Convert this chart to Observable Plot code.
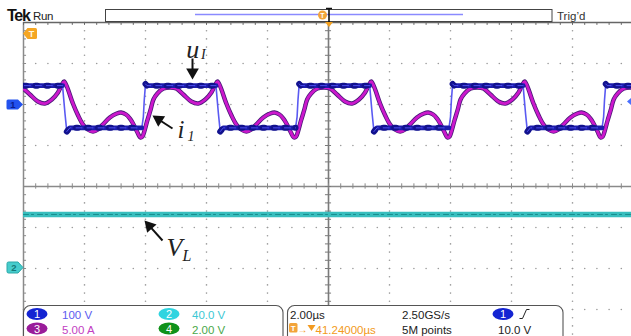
<!DOCTYPE html>
<html><head><meta charset="utf-8">
<script src="https://cdn.jsdelivr.net/npm/d3@7"></script>
<script src="https://cdn.jsdelivr.net/npm/@observablehq/plot@0.6"></script>
<style>
html,body{margin:0;padding:0;background:#fff;}
#chart{position:relative;width:631px;height:336px;overflow:hidden;}
</style></head><body><div id="chart"></div>
<script>
// ================= DATA =================
// time in µs from the left edge of the screen (2 µs/div), values in V or A
const risingEdgesUs = [-1.10, 3.93, 8.97, 14.00, 19.02];   // u_I rising edges

// Ch1 u_I, one period relative to its rising edge
const ch1RelUs  = [-0.05, 0.00, 0.03, 0.07, 0.12, 2.38, 2.42, 2.46, 2.52, 2.62, 4.97];
const ch1Volts  = [-57,   -30,  12,   50,   46,   46,   12,   -22,  -66,  -57,  -57];
const ch1Level  = ["L",   "",   "",   "H",  "H",  "H",  "",   "",   "L",  "L",  "L"];

// Ch3 i_1, one period relative to the u_I rising edge
const ch3RelUs = [-0.10, -0.03, 0.03, 0.13, 0.23, 0.33, 0.46, 0.66, 0.89, 1.08, 1.31, 1.57, 1.80, 2.03, 2.23, 2.36, 2.43, 2.52, 2.72, 2.89, 3.05, 3.21, 3.38, 3.54, 3.70, 3.93, 4.16, 4.30, 4.46, 4.59, 4.69, 4.82];
const ch3Amps  = [-4.02, -3.90, -3.29, -1.95, -0.73, 0.61, 1.34, 1.95, 2.07, 1.95, 1.22, 0.37, 0.12, 0.61, 1.46, 2.44, 2.80, 2.20, 0.12, -1.34, -2.44, -3.05, -3.29, -3.05, -2.44, -1.59, -1.10, -0.98, -1.22, -1.71, -2.32, -3.29];

// Ch2 V_L (flat)
const ch2TimeUs = [0, 19.934];
const ch2Volts  = [52.7, 52.7];

// channel settings: volts (amps) per division and ground offset in divisions
const ch1Scale = 100, ch1Offset = 2;
const ch2Scale = 40,  ch2Offset = -2;
const ch3Scale = 5,   ch3Offset = 2;

// readout texts
const readRow1 = ["100 V", "40.0 V"];
const readRow2 = ["5.00 A", "2.00 V"];
const horizRow1 = ["2.00µs", "2.50GS/s", "1"];
const horizRow2 = ["41.24000µs", "5M points", "10.0 V"];

// annotation labels
const labels = [
  {main: "u", sub: "I", t: 5.34, d: 3.122, st: 5.82, sd: 3.10, fs: 26, ss: 14},
  {main: "i", sub: "1", t: 5.05, d: 1.195, st: 5.38, sd: 1.098, fs: 25, ss: 14},
  {main: "V", sub: "L", t: 4.69, d: -1.683, st: 5.21, sd: -1.805, fs: 26, ss: 16}
];
// arrows: tail (t,div) -> arrow-head centre (t,div), head rotation (deg)
const arrows = [
  {t1: 5.541, d1: 3.122, t2: 5.541, d2: 2.79, rot: 180},
  {t1: 4.885, d1: 1.415, t2: 4.430, d2: 1.634, rot: -57},
  {t1: 4.557, d1: -1.317, t2: 4.128, d2: -0.961, rot: -42}
];

// ================= BUILD SERIES =================
const ch1 = [], ch1Thick = [], ch3 = [];
risingEdgesUs.forEach((R, k) => {
  ch1RelUs.forEach((r, i) => {
    const p = {t: R + r, y: ch1Offset + ch1Volts[i] / ch1Scale};
    ch1.push(p);
    if (ch1Level[i]) ch1Thick.push({...p, g: (r < 0 ? k - 1 : k) + ch1Level[i]});
  });
  ch3RelUs.forEach((r, i) => ch3.push({t: R + r, y: ch3Offset + ch3Amps[i] / ch3Scale}));
});
const ch2 = ch2TimeUs.map((t, i) => ({t, y: ch2Offset + ch2Volts[i] / ch2Scale}));

// graticule helpers
const majT = [2, 4, 6, 8, 12, 14, 16, 18];
const majD = [3, 2, 1, -1, -2, -3];
const fineT = d3.range(0, 20.01, 0.4);
const fineD = d3.range(-4, 4.01, 0.2);
const gratDots = [];
majT.forEach(t => fineD.forEach(d => gratDots.push({t, d})));
majD.forEach(d => fineT.forEach(t => gratDots.push({t, d})));

const serif = "'Liberation Serif', 'Times New Roman', serif";

const chart = Plot.plot({
  width: 631, height: 336,
  marginLeft: 23, marginRight: 0, marginTop: 22, marginBottom: 0,
  x: {domain: [0, 19.934], axis: null},
  y: {domain: [-3.6585, 4], axis: null},
  style: {background: "#fff", overflow: "visible"},
  marks: [
    Plot.dot(gratDots, {x: "t", y: "d", r: 0.8, fill: "#9a9a9a", stroke: null}),
    Plot.ruleX([10], {stroke: "#7a7a7a", strokeWidth: 1.6}),
    Plot.ruleY([0], {stroke: "#8a8a8a", strokeWidth: 1.3}),
    Plot.ruleX(fineT, {x: d => d, y1: -0.065, y2: 0.065, stroke: "#8a8a8a"}),
    Plot.ruleY(fineD, {y: d => d, x1: 9.9, x2: 10.1, stroke: "#7a7a7a"}),
    Plot.ruleX([0], {stroke: "#8a8a8a", strokeWidth: 1.5}),
    Plot.ruleY(fineD, {y: d => d, x1: 0, x2: 0.1, stroke: "#8a8a8a"}),
    Plot.ruleY([4], {stroke: "#666", strokeWidth: 1.6}),
    Plot.ruleX(fineT, {x: d => d, y1: 4, y2: 3.93, stroke: "#666"}),
    // Ch2
    Plot.line(ch2, {x: "t", y: "y", stroke: "#38bebe", strokeWidth: 5.5, clip: true}),
    Plot.line(ch2, {x: "t", y: "y", stroke: "#178e8e", strokeWidth: 1, strokeDasharray: "5,3,2,4", clip: true}),
    // Ch3
    Plot.line(ch3, {x: "t", y: "y", stroke: "#4a1a78", strokeWidth: 4.4, curve: "catmull-rom", clip: true}),
    Plot.line(ch3, {x: "t", y: "y", stroke: "#cc18cc", strokeWidth: 2.8, curve: "catmull-rom", clip: true}),
    // Ch1
    Plot.line(ch1, {x: "t", y: "y", stroke: "#5a5af2", strokeWidth: 1.6, clip: true}),
    Plot.line(ch1Thick, {x: "t", y: "y", z: "g", stroke: "#1c1cac", strokeWidth: 4.8, clip: true}),
    Plot.line(ch1Thick, {x: "t", y: "y", z: "g", stroke: "#12128e", strokeWidth: 6, strokeDasharray: "2,9", clip: true}),
    Plot.line(ch1Thick, {x: "t", y: "y", z: "g", stroke: "#4e4ef2", strokeWidth: 1, strokeDasharray: "6,5", clip: true}),
    // annotations
    Plot.link(arrows, {x1: "t1", y1: "d1", x2: "t2", y2: "d2", stroke: "#111", strokeWidth: 2}),
    Plot.dot(arrows, {x: "t2", y: "d2", symbol: "triangle", r: 4.7, fill: "#111", stroke: null, rotate: "rot"}),
    Plot.text(labels, {x: "t", y: "d", text: "main", textAnchor: "start", lineAnchor: "bottom", fontStyle: "italic", fontFamily: serif, fontSize: d => d.fs, fill: "#222"}),
    Plot.text(labels, {x: "st", y: "sd", text: "sub", textAnchor: "start", lineAnchor: "bottom", fontStyle: "italic", fontFamily: serif, fontSize: d => d.ss, fill: "#222"})
  ]
});
document.getElementById("chart").appendChild(chart);

// ================= SCOPE CHROME =================
const svg = d3.select(chart);
const g = svg.append("g").attr("font-family", "'Liberation Sans', Arial, sans-serif");
const txt = (x, y, s, o = {}) => g.append("text").attr("x", x).attr("y", y).text(s)
  .attr("font-size", o.fs || 11.5).attr("fill", o.fill || "#222")
  .attr("font-weight", o.fw || null).attr("text-anchor", o.anchor || "start")
  .attr("letter-spacing", o.ls || null);

// header
txt(7, 21, "Tek", {fs: 16, fw: "bold", ls: -1.3, fill: "#111"});
txt(33, 20, "Run", {fs: 11.5, ls: -0.3});
g.append("rect").attr("x", 105.5).attr("y", 9.5).attr("width", 446.5).attr("height", 12)
  .attr("fill", "#fff").attr("stroke", "#444").attr("stroke-width", 1);
g.append("line").attr("x1", 195).attr("x2", 463).attr("y1", 14.5).attr("y2", 14.5)
  .attr("stroke", "#8a8aff").attr("stroke-width", 1.6);
g.append("circle").attr("cx", 322.5).attr("cy", 15).attr("r", 4.5).attr("fill", "#f2a43a");
txt(322.5, 18, "T", {fs: 7, fw: "bold", fill: "#fff", anchor: "middle"});
g.append("path").attr("d", "M326,8.5H332M329,8.5V23").attr("stroke", "#111").attr("stroke-width", 1.6).attr("fill", "none");
g.append("path").attr("d", "M325,22L333,22L329,27Z").attr("fill", "#f2a020");
txt(557, 20, "Trig’d", {fs: 11.5, fill: "#333"});

// left / right markers
g.append("path").attr("d", "M23,33.5L27.5,28H35.5Q37,28 37,29.5V37.5Q37,39 35.5,39H27.5Z").attr("fill", "#f5a623");
txt(31.5, 37, "T", {fs: 9, fw: "bold", fill: "#fff6e0", anchor: "middle"});
g.append("path").attr("d", "M8,99.5H18L23,104.5L18,109.5H8Q6.5,109.5 6.5,108V101Q6.5,99.5 8,99.5Z").attr("fill", "#2352ee");
txt(13, 108, "1", {fs: 9.5, fw: "bold", fill: "#0c1c8c", anchor: "middle"});
g.append("path").attr("d", "M8.5,262H18L23,267.5L18,273H8.5Q7,273 7,271.5V263.5Q7,262 8.5,262Z").attr("fill", "#46cccc").attr("stroke", "#2aa8a8");
txt(14, 271, "2", {fs: 9.5, fw: "bold", fill: "#157878", anchor: "middle"});
g.append("path").attr("d", "M627,101.5L631,98V105Z").attr("fill", "#4a70ff");

// readout boxes
g.append("rect").attr("x", 23.5).attr("y", 305.5).attr("width", 259.5).attr("height", 40).attr("rx", 7)
  .attr("fill", "#fff").attr("stroke", "#555").attr("stroke-width", 1.1);
g.append("rect").attr("x", 287.5).attr("y", 305.5).attr("width", 275.5).attr("height", 40).attr("rx", 7)
  .attr("fill", "#fff").attr("stroke", "#555").attr("stroke-width", 1.1);
const badge = (cx, cy, n, fill) => {
  g.append("ellipse").attr("cx", cx).attr("cy", cy).attr("rx", 10.5).attr("ry", 6).attr("fill", fill);
  txt(cx, cy + 4, n, {fs: 11, fill: "#fff", anchor: "middle"});
};
badge(37, 314, "1", "#1424d2");
txt(62, 319, readRow1[0], {fill: "#5c5cf0"});
badge(169, 314, "2", "#2fd4e0");
txt(192, 319, readRow1[1], {fill: "#3cc8d4"});
badge(37, 328.5, "3", "#9a1c9a");
txt(62, 333.5, readRow2[0], {fill: "#c23ec2"});
badge(169, 328.5, "4", "#10921a");
txt(192, 333.5, readRow2[1], {fill: "#4aa84a"});

txt(290, 319, horizRow1[0]);
txt(402, 319, horizRow1[1]);
badge(503, 314, horizRow1[2], "#1424d2");
g.append("path").attr("d", "M519.5,318.5H522.5L526.5,309.5H529.5").attr("stroke", "#222").attr("fill", "none");
g.append("rect").attr("x", 289).attr("y", 323).attr("width", 8.5).attr("height", 9.5).attr("rx", 1.5).attr("fill", "#f2a43a");
txt(293.2, 331, "T", {fs: 8, fw: "bold", fill: "#fff", anchor: "middle"});
txt(297.5, 333, "→", {fs: 10, fill: "#f29a20"});
g.append("path").attr("d", "M307.5,325H315.5L311.5,331Z").attr("fill", "#f29a20");
txt(315.5, 333.5, horizRow2[0], {fill: "#f29a20"});
txt(402, 333.5, horizRow2[1]);
txt(498, 333.5, horizRow2[2]);
</script></body></html>
